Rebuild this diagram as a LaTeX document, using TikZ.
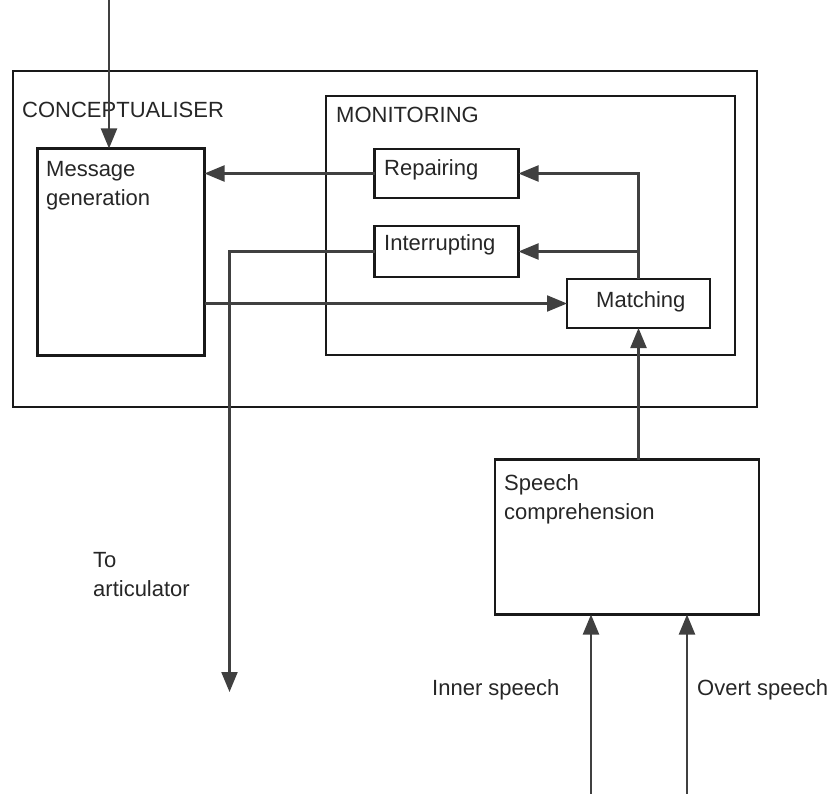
\documentclass[tikz,border=0pt]{standalone}
\usepackage{fontspec}
\setmainfont{Liberation Sans}
\usetikzlibrary{arrows.meta}
\begin{document}
\begin{tikzpicture}[x=1pt,y=-1pt,
  box/.style={draw=black!90,line width=2.4pt,anchor=north west,inner sep=0pt,outer sep=0pt},
  txt/.style={anchor=base west,inner sep=0pt,font=\fontsize{22}{29}\selectfont,align=left,text=black!85},
  arr/.style={draw=black!75,line width=2.2pt,-{Triangle[length=20pt,width=16pt]}},
  ln/.style={draw=black!75,line width=2.2pt}]
\useasboundingbox (0,0) rectangle (830,794);
% boxes
\node[box,minimum width=744pt,minimum height=336pt] (conc) at (13,71) {};
\node[box,minimum width=409pt,minimum height=259pt] (mon) at (326,96) {};
\node[box,minimum width=167pt,minimum height=207pt] (msg) at (37.5,148.5) {};
\node[box,minimum width=144pt,minimum height=49pt] (rep) at (374.5,149) {};
\node[box,minimum width=144pt,minimum height=51pt] (int) at (374.5,226) {};
\node[box,minimum width=143pt,minimum height=49pt] (mat) at (567,279) {};
\node[box,minimum width=264pt,minimum height=155pt] (sc) at (495,459.5) {};
% texts (multi-line nodes are placed at the baseline of their last line)
\node[txt] (tconc) at (22,118) {CONCEPTUALISER};
\node[txt] (tmon) at (336,123) {MONITORING};
\node[txt] (tmsg) at (46,206) {Message\\generation};
\node[txt] (trep) at (384,176) {Repairing};
\node[txt] (tint) at (384,251) {Interrupting};
\node[txt] (tmat) at (596,308) {Matching};
\node[txt] (tsc) at (504,519) {Speech\\comprehension};
\node[txt] (tart) at (93,596) {To\\articulator};
\node[txt] (tin) at (432,695) {Inner speech};
\node[txt] (tov) at (697,695) {Overt speech};
% coordinates
\coordinate (topin) at (109,0);
\coordinate (artic) at (229.5,692);
\coordinate (inner) at (591,794);
\coordinate (overt) at (687,794);
% connectors
\draw[arr] (topin) -- (topin |- msg.north);
\draw[arr] (rep.west) -- (rep.west -| msg.east);
\draw[arr] (int.west) -- (int.west -| artic) -- (artic);
\draw[arr] (mat.west -| msg.east) -- (mat.west);
\draw[arr] (mat.north) -- (mat.north |- rep.east) -- (rep.east);
\draw[arr] (mat.north |- int.east) -- (int.east);
\draw[arr] (sc.north -| mat.north) -- (mat.south);
\draw[arr] (inner) -- (inner |- sc.south);
\draw[arr] (overt) -- (overt |- sc.south);
\end{tikzpicture}
\end{document}
